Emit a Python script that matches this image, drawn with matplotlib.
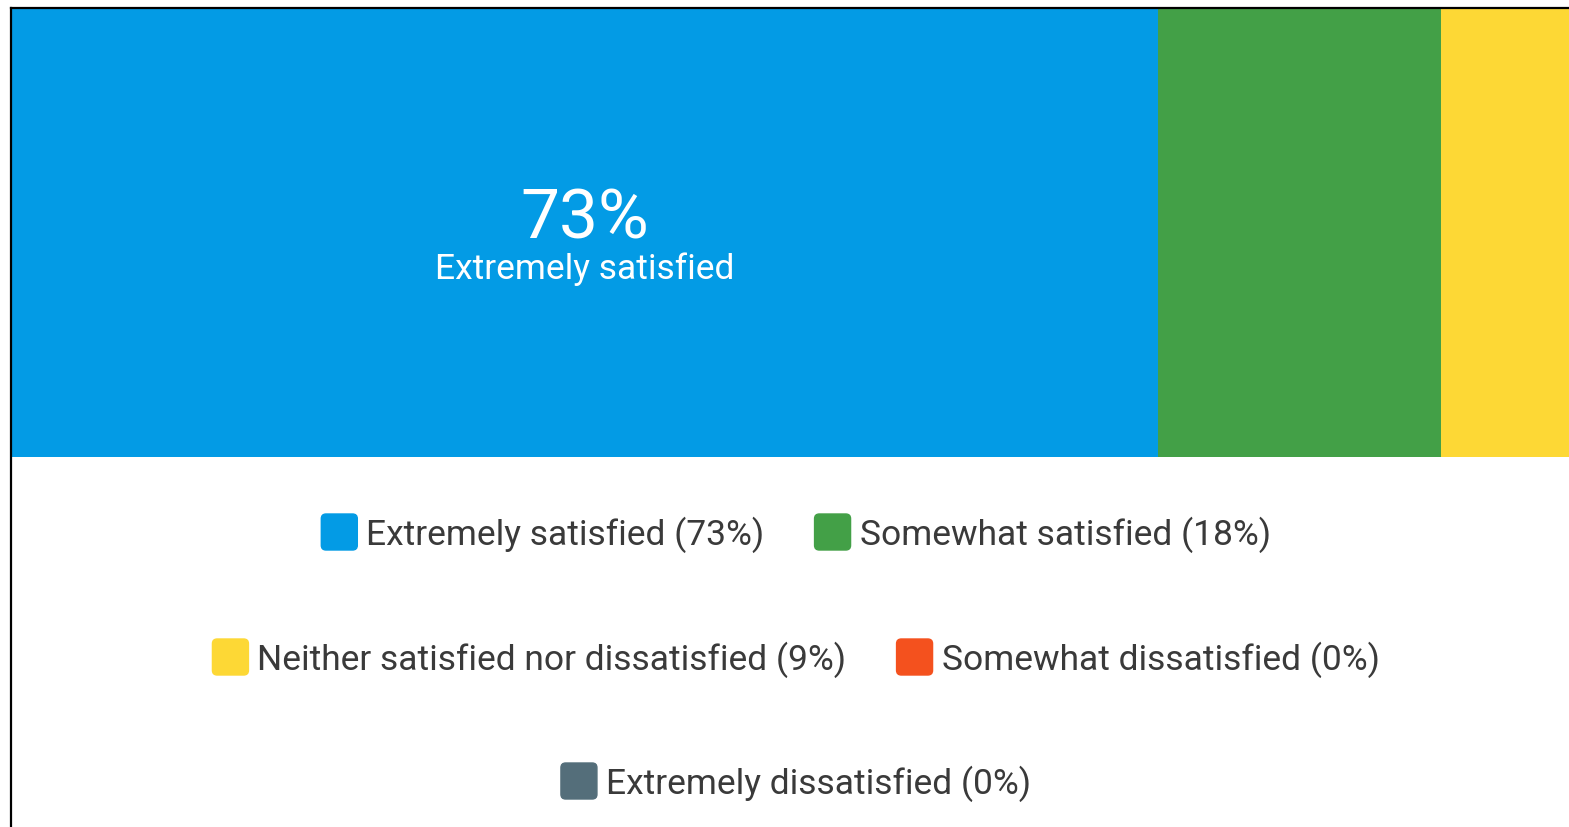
import matplotlib
matplotlib.use("Agg")
import matplotlib.pyplot as plt
from matplotlib.patches import FancyBboxPatch
from matplotlib.lines import Line2D

plt.rcParams['font.family'] = ['Roboto', 'DejaVu Sans']

categories = ['Extremely satisfied', 'Somewhat satisfied',
              'Neither satisfied nor dissatisfied', 'Somewhat dissatisfied',
              'Extremely dissatisfied']
values = [73, 18, 9, 0, 0]
colors = ['#039be5', '#43a047', '#fdd835', '#f4511e', '#546e7a']
legend_rows = [[0, 1], [2, 3], [4]]

W, H = 1569, 828
fig = plt.figure(figsize=(W / 100, H / 100), dpi=100)

# bar axes: 1% ~ 15.7 px, so the full bar runs past the right edge
x0, px_per = 12, 15.7
ax = fig.add_axes([x0 / W, 1 - 458 / H, 100 * px_per / W, (458 - 10) / H])
left = 0
for v, c in zip(values, colors):
    ax.barh(0, v, left=left, height=1, color=c, edgecolor='none')
    left += v
ax.set_xlim(0, 100)
ax.set_ylim(-0.5, 0.5)
ax.axis('off')

ax.text(values[0] / 2, -0.01, f'{values[0]}%', color='white', fontsize=50,
        ha='center', va='baseline')
ax.text(values[0] / 2, -0.1, categories[0], color='white', fontsize=25.5,
        ha='center', va='baseline')

# frame lines (left and top)
fig.add_artist(Line2D([10.5 / W, 10.5 / W], [0, 1 - 8.5 / H], color='black', lw=1.6))
fig.add_artist(Line2D([10.5 / W, 1], [1 - 8.5 / H, 1 - 8.5 / H], color='black', lw=1.6))

# legend, each row centred on its own
fig.canvas.draw()
r = fig.canvas.get_renderer()
cx = 796
row_y = [533, 658, 782]
box, gap_t, gap_i = 36, 9, 50
fs = 25.5
for ry, row in zip(row_y, legend_rows):
    texts = [f'{categories[i]} ({values[i]}%)' for i in row]
    widths = []
    for t in texts:
        tt = fig.text(0, 0, t, fontsize=fs)
        widths.append(tt.get_window_extent(r).width)
        tt.remove()
    total = sum(box + gap_t + w for w in widths) + gap_i * (len(row) - 1)
    x = cx - total / 2
    for i, t, w in zip(row, texts, widths):
        fig.add_artist(FancyBboxPatch((x / W, (H - ry - box / 2) / H), box / W, box / H,
                                      boxstyle='round,pad=0,rounding_size=0.003',
                                      transform=fig.transFigure, color=colors[i],
                                      mutation_aspect=W / H))
        fig.text((x + box + gap_t) / W, (H - ry - 12) / H, t, fontsize=fs,
                 color='#3a3a3a', va='baseline')
        x += box + gap_t + w + gap_i

fig.savefig('out.png', dpi=100)
